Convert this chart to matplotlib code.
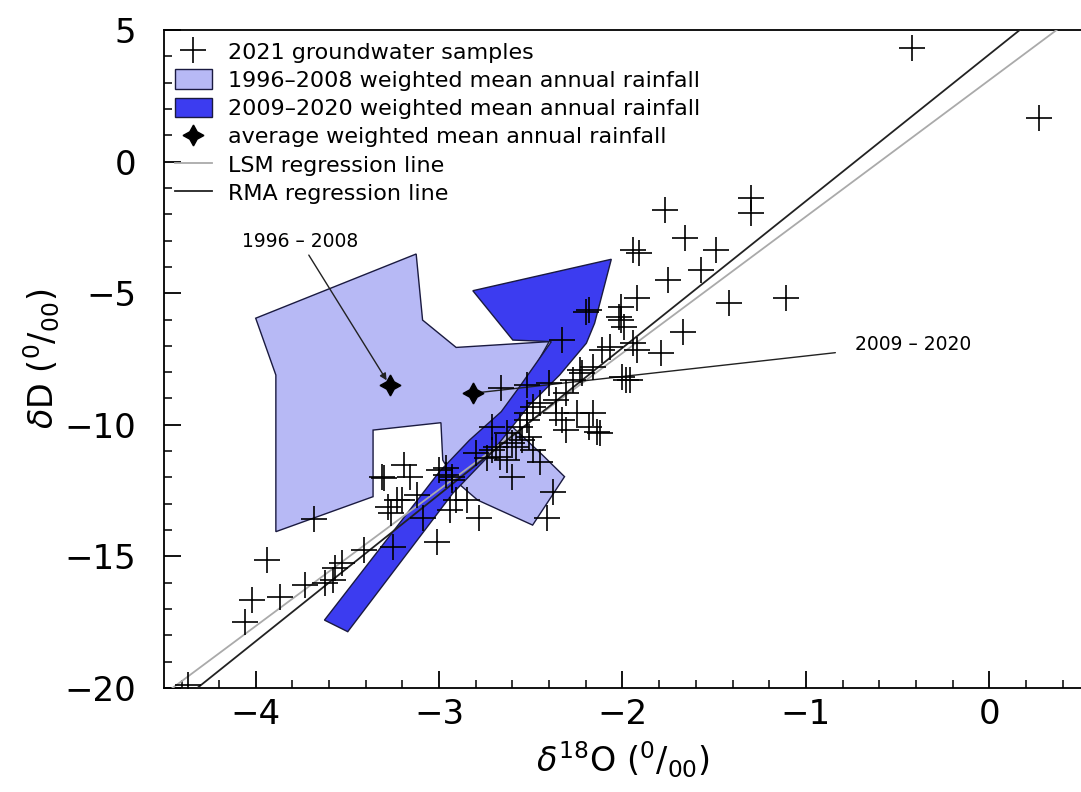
import numpy as np
import matplotlib
matplotlib.use("Agg")
import matplotlib.pyplot as plt
from matplotlib.lines import Line2D
from matplotlib.patches import Patch, Polygon

# groundwater samples (d18O, dD)
gw_x = [-4.37, -4.06, -4.02, -3.94, -3.87, -3.73, -3.68, -3.62, -3.58, -3.53,
        -3.57, -3.41, -3.25, -3.01,
        -3.30, -3.19, -3.28, -3.26, -3.20, -3.12, -3.09, -3.31, -3.00, -2.96,
        -2.93, -2.94, -2.91, -2.85, -2.78, -2.80, -2.74, -2.69, -2.67, -2.60,
        -2.58, -2.55, -2.49, -2.45, -2.38, -2.41, -2.71, -2.63, -2.52, -2.33,
        -2.31, -2.96, -2.93, -3.16, -3.23, -2.71, -2.63, -2.60, -2.51, -2.36,
        -2.49,
        -2.66, -2.52, -2.33, -2.20, -2.01, -1.94, -1.98, -2.11, -2.23, -2.27,
        -2.40, -2.36, -2.45, -2.52, -2.56, -2.18, -2.14,
        -1.77, -1.30, -1.30, -1.66, -1.49, -1.91, -1.57, -1.75, -1.42, -1.11,
        -1.92, -2.18, -2.01, -2.02, -1.99, -1.67, -1.79, -1.96, -2.00, -1.92,
        -1.94, -2.07, -2.16, -2.16, -2.12, -2.31, -2.25, -2.22,
        -0.42, 0.27]
gw_y = [-19.89, -17.48, -16.66, -15.14, -16.53, -16.09, -13.59, -16.02, -15.90, -15.26,
        -15.45, -14.76, -14.63, -14.44,
        -12.03, -11.53, -13.11, -13.36, -12.86, -12.67, -13.55, -11.97, -11.72, -11.91,
        -12.10, -13.24, -12.86, -12.86, -13.55, -11.08, -11.27, -10.83, -11.21, -11.97,
        -10.83, -10.58, -10.96, -11.40, -12.54, -13.55, -10.07, -10.32, -9.82, -9.82,
        -10.20, -11.65, -11.97, -11.97, -12.86, -10.96, -11.34, -10.70, -10.45, -9.56,
        -9.31,
        -8.61, -8.49, -6.78, -5.70, -6.02, -3.36, -8.30, -7.16, -7.92, -8.30,
        -8.43, -9.06, -9.18, -9.56, -10.07, -10.07, -10.26,
        -1.84, -1.40, -1.97, -2.92, -3.36, -3.49, -4.12, -4.50, -5.38, -5.20,
        -5.20, -5.64, -5.51, -5.89, -6.27, -6.46, -7.28, -8.30, -8.17, -7.16,
        -6.90, -7.03, -7.79, -9.56, -10.32, -8.80, -9.56, -8.04,
        4.30, 1.65]

# weighted mean annual rainfall envelopes
rain1_x = [-4.00, -3.125, -3.09, -2.907, -2.40, -2.64, -2.436, -2.316, -2.49, -2.79,
           -2.916, -2.98, -2.99, -3.36, -3.36, -3.89, -3.89]
rain1_y = [-5.95, -3.51, -6.02, -7.06, -6.84, -9.82, -11.15, -11.97, -13.81, -12.86,
           -12.10, -11.34, -9.92, -10.20, -12.73, -14.06, -8.11]
rain2_x = [-2.816, -2.061, -2.152, -2.197, -2.343, -2.507, -2.725, -2.925, -3.498, -3.625,
           -2.998, -2.834, -2.661, -2.561, -2.388, -2.598]
rain2_y = [-4.905, -3.71, -6.14, -6.90, -8.11, -9.25, -11.15, -12.60, -17.86, -17.42,
           -11.78, -10.58, -9.50, -8.55, -6.84, -6.78]

# averages of weighted mean annual rainfall
avg_x = [-3.27, -2.816]
avg_y = [-8.49, -8.80]

# regression lines (slope, intercept)
lsm = (5.186, 3.097)
rma = (5.575, 4.075)

light = '#b7b9f5'
dark = '#3c3cf0'

fig = plt.figure(figsize=(10.81, 7.92), dpi=100)
ax = fig.add_axes([0.1517, 0.1313, 0.8483, 0.8308])

ax.add_patch(Polygon(np.column_stack([rain1_x, rain1_y]), closed=True,
                     facecolor=light, edgecolor='#1a1a40', linewidth=1.0, zorder=1))
ax.add_patch(Polygon(np.column_stack([rain2_x, rain2_y]), closed=True,
                     facecolor=dark, edgecolor='#1a1a40', linewidth=1.0, zorder=2))

xx = np.array([-4.6, 0.6])
ax.plot(xx, lsm[0] * xx + lsm[1], color='#aaaaaa', linewidth=1.3, zorder=3)
ax.plot(xx, rma[0] * xx + rma[1], color='#222222', linewidth=1.3, zorder=3)

ax.plot(gw_x, gw_y, linestyle='none', marker='+', markersize=19,
        markeredgewidth=1.2, color='black', zorder=4)
ax.plot(avg_x, avg_y, linestyle='none', marker=(4, 1, 0), markersize=15,
        color='black', zorder=5)

# labels pointing at the averages
ax.annotate('1996 \u2013 2008', xy=(avg_x[0], avg_y[0]), xytext=(-3.756, -3.04),
            ha='center', va='center', fontsize=13.5,
            arrowprops=dict(arrowstyle='-|>', color='#222222', lw=1.0,
                            shrinkA=1, shrinkB=4, mutation_scale=10))
ax.annotate('2009 \u2013 2020', xy=(avg_x[1], avg_y[1]), xytext=(-0.417, -6.93),
            ha='center', va='center', fontsize=13.5,
            arrowprops=dict(arrowstyle='-', color='#222222', lw=1.0,
                            shrinkA=12, shrinkB=4))

ax.set_xlim(-4.5, 0.5)
ax.set_ylim(-20, 5)
ax.set_xticks([-4, -3, -2, -1, 0])
ax.set_yticks([-20, -15, -10, -5, 0, 5])
ax.set_xticks(np.arange(-4.4, 0.5, 0.2), minor=True)
ax.set_yticks(np.arange(-20, 5, 1), minor=True)
ax.tick_params(which='major', direction='in', length=12, width=1.3, labelsize=24.5)
ax.tick_params(axis='y', which='major', pad=20)
ax.tick_params(axis='x', which='major', pad=7)
ax.tick_params(which='minor', direction='in', length=6, width=1.1)
ax.tick_params(top=False, right=False, which='both')
ax.spines['right'].set_visible(False)
for s in ['left', 'bottom', 'top']:
    ax.spines[s].set_linewidth(1.3)

ax.set_xlabel(r'$\delta^{18}$O ($^{0}/_{00}$)', fontsize=24, labelpad=6)
ax.set_ylabel(r'$\delta$D ($^{0}/_{00}$)', fontsize=24, labelpad=2)

handles = [
    Line2D([], [], linestyle='none', marker='+', markersize=19, markeredgewidth=1.2, color='black'),
    Patch(facecolor=light, edgecolor='#1a1a40', linewidth=1.0),
    Patch(facecolor=dark, edgecolor='#1a1a40', linewidth=1.0),
    Line2D([], [], linestyle='none', marker=(4, 1, 0), markersize=15, color='black'),
    Line2D([], [], color='#aaaaaa', linewidth=1.3),
    Line2D([], [], color='#222222', linewidth=1.3),
]
labels = ['2021 groundwater samples',
          '1996\u20132008 weighted mean annual rainfall',
          '2009\u20132020 weighted mean annual rainfall',
          'average weighted mean annual rainfall',
          'LSM regression line',
          'RMA regression line']
ax.legend(handles, labels, loc='upper left', bbox_to_anchor=(0.0, 1.0),
          frameon=False, fontsize=16, handlelength=1.65, handleheight=1.0,
          handletextpad=0.75, labelspacing=0.3, borderaxespad=0.1)

fig.savefig('out.png', dpi=100)
